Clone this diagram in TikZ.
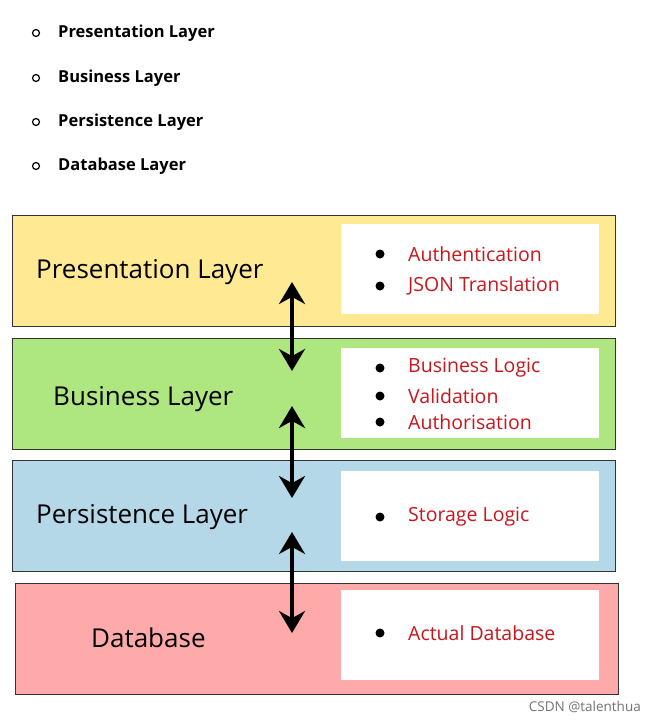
\documentclass[tikz,border=0pt]{standalone}
\usepackage{fontspec}
\setmainfont{Open Sans}
\usetikzlibrary{arrows.meta}
\definecolor{lyel}{HTML}{FFE992}
\definecolor{lgrn}{HTML}{AEE680}
\definecolor{lblu}{HTML}{B4D8E8}
\definecolor{lpnk}{HTML}{FFAAAA}
\definecolor{itred}{HTML}{C8161D}
\begin{document}
\begin{tikzpicture}[x=1pt,y=-1pt,
  layer/.style={draw=black!80,line width=0.8pt,minimum width=603pt,minimum height=111pt,anchor=north west,inner sep=0pt},
  wbox/.style={fill=white,minimum width=258pt,minimum height=90pt,anchor=north west,inner sep=0pt},
  lname/.style={font=\fontsize{26}{30}\selectfont,anchor=west,inner sep=0pt},
  item/.style={font=\fontsize{19.5}{23}\selectfont,text=itred,anchor=west,inner sep=0pt},
  top/.style={font=\fontsize{16.5}{20}\selectfont\bfseries,anchor=west,inner sep=0pt},
  dot/.style={circle,fill=black,inner sep=0pt,minimum size=9pt},
  odot/.style={circle,draw=black,line width=1.2pt,inner sep=0pt,minimum size=7pt},
  dbl/.style={line width=3.5pt,arrows={Stealth[length=22pt,width=26pt]-Stealth[length=22pt,width=26pt]}}]
\useasboundingbox (0,0) rectangle (656,722);
% top list
\foreach \y/\t/\n in {33/Presentation Layer/a,78/Business Layer/b,122/Persistence Layer/c,166/Database Layer/d}{
  \node[odot] (o\n) at (36,\y) {};
  \node[top] (t\n) at (58,\y) {\t};
}
% layers
\node[layer,fill=lyel] (L1) at (12,215) {};
\node[layer,fill=lgrn] (L2) at (12,338) {};
\node[layer,fill=lblu] (L3) at (12,460) {};
\node[layer,fill=lpnk] (L4) at (15,583) {};
\node[wbox] (W1) at (341,224) {};
\node[wbox] (W2) at (341,348) {};
\node[wbox] (W3) at (341,471) {};
\node[wbox] (W4) at (341,590) {};
\node[lname] (n1) at (36,272) {Presentation Layer};
\node[lname] (n2) at (53,399) {Business Layer};
\node[lname] (n3) at (36,517) {Persistence Layer};
\node[lname] (n4) at (91,638) {Database};
% items
\foreach \y/\t/\n in {254/Authentication/i1,286/JSON Translation/i2,368/Business Logic/i3,396/Validation/i4,422/Authorisation/i5,517/Storage Logic/i6,633/Actual Database/i7}{
  \node[dot] (d\n) at (380,\y) {};
  \node[item] (\n) at (408,\y) {\t};
}
% arrows
\coordinate (a1) at (292,282); \coordinate (b1) at (292,371);
\coordinate (a2) at (292,406); \coordinate (b2) at (292,498);
\coordinate (a3) at (292,532); \coordinate (b3) at (292,633);
\draw[dbl] (a1) -- (b1);
\draw[dbl] (a2) -- (b2);
\draw[dbl] (a3) -- (b3);
\node[font=\fontsize{13.5}{16}\selectfont,text=black!55,anchor=east,inner sep=0pt] (wm) at (641,707) {CSDN @talenthua};
\end{tikzpicture}
\end{document}
